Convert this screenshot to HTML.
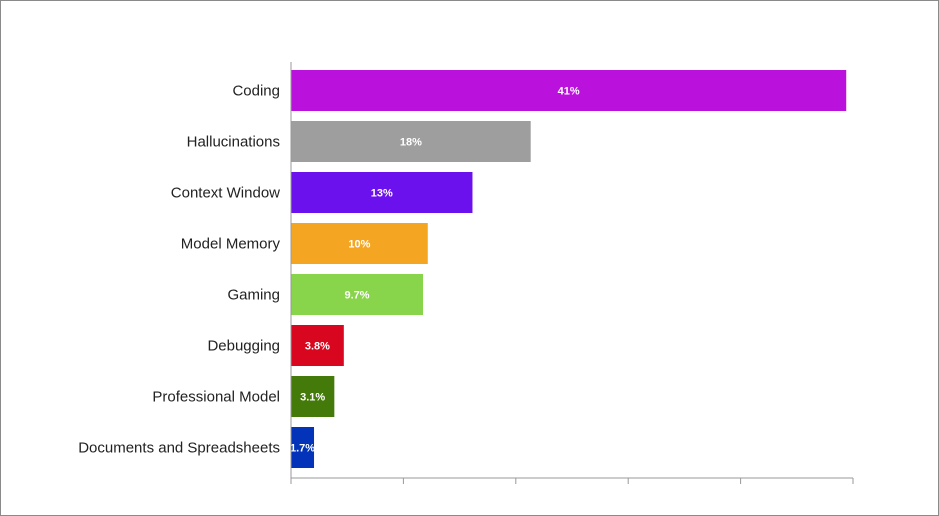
<!DOCTYPE html>
<html><head><meta charset="utf-8"><style>
html,body{margin:0;padding:0;background:#fff}
#frame{position:absolute;left:0;top:0;width:937px;height:514px;border:1px solid #8a8a8a;}
svg{position:absolute;left:0;top:0}
</style></head><body>
<div id="frame"></div>
<svg id="chart" width="939" height="516"></svg>
<script>
const categories=["Coding","Hallucinations","Context Window","Model Memory","Gaming","Debugging","Professional Model","Documents and Spreadsheets"];
const values=[41,17.7,13.4,10.1,9.75,3.9,3.2,1.7];
const valueLabels=["41%","18%","13%","10%","9.7%","3.8%","3.1%","1.7%"];
const colors=["#bb11dd","#9e9e9e","#6a11ee","#f4a623","#88d44a","#d8061e","#437a09","#0233b8"];
const xMax=41.5;
const X0=291,X1=853,Y0=65,rowH=51,barH=41;
const NS="http://www.w3.org/2000/svg";
const svg=document.getElementById('chart');
function x(v){return X0+(X1-X0)*v/xMax;}
function y(i){return Y0+i*rowH;}
function mk(t,a){const e=document.createElementNS(NS,t);for(const k in a)e.setAttribute(k,a[k]);svg.appendChild(e);return e;}
categories.forEach((c,i)=>{
  const r=mk('rect',{x:X0,y:y(i)+5,width:x(values[i])-X0,height:barH,fill:colors[i]});
  
  
  const t=mk('text',{x:280,y:y(i)+5+barH/2+5,'text-anchor':'end','font-family':'Liberation Sans, sans-serif','font-size':15,fill:'#222'});
  t.textContent=c;
  
  
  const v=mk('text',{x:(X0+x(values[i]))/2,y:y(i)+5+barH/2+4,'text-anchor':'middle','font-family':'Liberation Sans, sans-serif','font-size':11,'font-weight':'bold',fill:'#fff'});
  v.textContent=valueLabels[i];
  
  
});
const ya=mk('line',{x1:X0,y1:62,x2:X0,y2:478,stroke:'#999','stroke-width':1});


const xa=mk('line',{x1:X0,y1:478,x2:X1,y2:478,stroke:'#999','stroke-width':1});


for(let k=0;k<=5;k++){
  const tx=X0+(X1-X0)*k/5;
  const tk=mk('line',{x1:tx,y1:478,x2:tx,y2:484,stroke:'#999','stroke-width':1});
  
  
}
</script>
</body></html>
